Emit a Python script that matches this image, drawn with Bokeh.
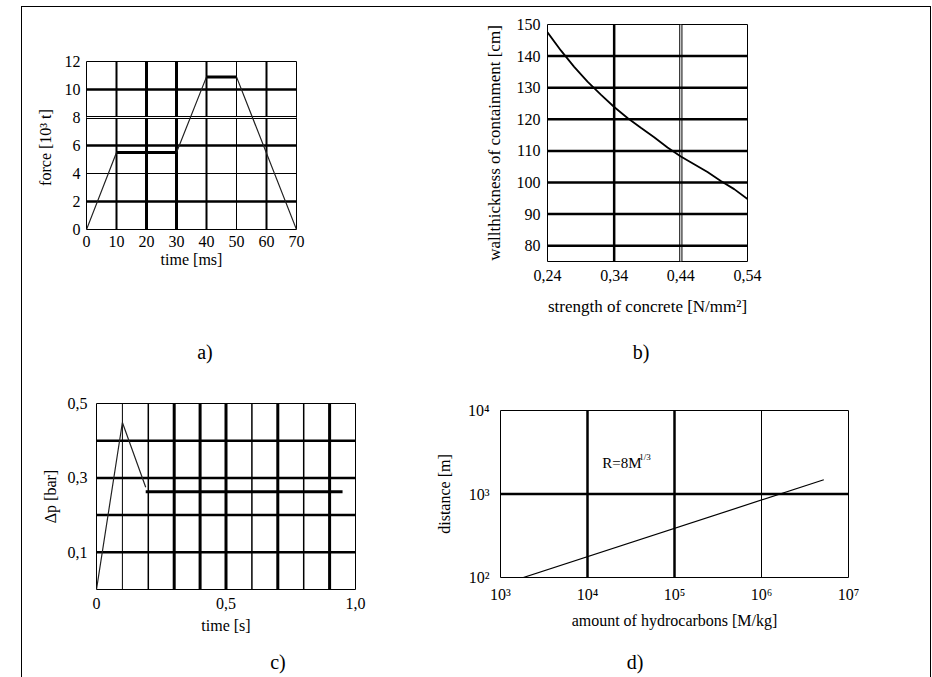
from bokeh.plotting import figure
from bokeh.models import Range1d, FixedTicker, Span, Label, Div, Spacer
from bokeh.layouts import row, column
from bokeh.embed import file_html
from bokeh.resources import INLINE

SERIF = "Liberation Serif"

# ---------------- data ----------------
# a) force vs time
a_time = [0, 10, 30, 40, 50, 70]
a_force = [0, 5.5, 5.5, 10.9, 10.9, 0]
a_flat_start = [10, 40]
a_flat_end = [30, 50]
a_flat_force = [5.5, 10.9]
a_xticks = [0, 10, 20, 30, 40, 50, 60, 70]
a_yticks = [0, 2, 4, 6, 8, 10, 12]
a_vgrid = [10, 20, 30, 40, 50, 60]
a_hgrid = [2, 4, 6, 8, 10]

# b) wall thickness vs strength of concrete
b_strength = [0.24, 0.26, 0.28, 0.30, 0.32, 0.34, 0.36, 0.38, 0.40, 0.42, 0.44, 0.46, 0.48, 0.50, 0.52, 0.54]
b_thickness = [147.5, 141.8, 136.6, 131.9, 127.8, 123.9, 120.4, 117.3, 114.3, 111.1, 108.2, 105.8, 103.3, 100.5, 97.9, 94.8]
b_xticks = [0.24, 0.34, 0.44, 0.54]
b_xlabels = ["0,24", "0,34", "0,44", "0,54"]
b_yticks = [80, 90, 100, 110, 120, 130, 140, 150]
b_vgrid = [0.34, 0.44]
b_hgrid = [80, 90, 100, 110, 120, 130, 140]

# c) pressure vs time
c_time = [0, 0.1, 0.19]
c_dp = [0, 0.449, 0.275]
c_plateau_time = [0.19, 0.95]
c_plateau_dp = [0.263, 0.263]
c_xticks = [0, 0.5, 1.0]
c_xlabels = ["0", "0,5", "1,0"]
c_yticks = [0.1, 0.3, 0.5]
c_ylabels = ["0,1", "0,3", "0,5"]
c_vgrid = [0.1, 0.2, 0.3, 0.4, 0.5, 0.6, 0.7, 0.8, 0.9]
c_hgrid = [0.1, 0.2, 0.3, 0.4]

# d) distance vs amount of hydrocarbons (log-log)
d_mass = [1.83e3, 5.2e6]
d_dist = [100, 1480]
d_xticks = [1e3, 1e4, 1e5, 1e6, 1e7]
d_xlabels = ["10³", "10⁴", "10⁵", "10⁶", "10⁷"]
d_yticks = [1e2, 1e3, 1e4]
d_ylabels = ["10²", "10³", "10⁴"]
d_vgrid = [1e4, 1e5, 1e6]
d_hgrid = [1e3]

panel_names = ["a)", "b)", "c)", "d)"]

# ---------------- styles ----------------
a_vgrid_w = [2, 3, 3, 2, 1, 2]
a_hgrid_w = [2.5, 1, 2.5, "double", 2.5]
b_vgrid_w = [2.5, "double"]
b_hgrid_w = [2.5] * 7
c_vgrid_w = [1, 1.5, 3, 3, 3, 1.5, 3, 1.5, 3]
c_hgrid_w = [2.5, 2.5, 2.5, 2.5]
d_vgrid_w = [2.5, 2.5, 1]
d_hgrid_w = [2.5]


def make_fig(w, h, left, right, top, bottom, xr, yr, xtype="linear", ytype="linear",
             tick_size="16px", label_size="16px"):
    p = figure(width=w, height=h, x_range=xr, y_range=yr,
               x_axis_type=xtype, y_axis_type=ytype,
               min_border_left=left, min_border_right=right,
               min_border_top=top, min_border_bottom=bottom,
               output_backend="svg", toolbar_location=None, title=None)
    p.frame_align = False
    p.outline_line_color = "black"
    p.outline_line_width = 1
    p.outline_line_alpha = 1
    p.xgrid.visible = False
    p.ygrid.visible = False
    p.background_fill_color = "white"
    p.border_fill_color = "white"
    for ax in p.axis:
        ax.axis_line_color = None
        ax.major_tick_line_color = None
        ax.minor_tick_line_color = None
        ax.major_tick_out = 0
        ax.major_tick_in = 0
        ax.minor_tick_out = 0
        ax.major_label_text_font = SERIF
        ax.major_label_text_font_size = tick_size
        ax.major_label_text_color = "black"
        ax.axis_label_text_font = SERIF
        ax.axis_label_text_font_size = label_size
        ax.axis_label_text_font_style = "normal"
        ax.axis_label_text_color = "black"
    return p


def add_grid(p, locs, widths, dim):
    for loc, wdt in zip(locs, widths):
        if wdt == "double":
            p.add_layout(Span(location=loc, dimension=dim, line_color="black",
                              line_width=3.2, level="underlay"))
            p.add_layout(Span(location=loc, dimension=dim, line_color="white",
                              line_width=1.2, level="underlay"))
        else:
            p.add_layout(Span(location=loc, dimension=dim, line_color="black",
                              line_width=wdt, level="underlay"))


# page geometry (pixels)
X0, Y0 = 22, 7
W1, W2 = 410, 498
HA, LA, HC, LC = 331, 28, 282, 29
YC = Y0 + HA + LA

# ---------------- a) ----------------
a_fl, a_fr, a_ft, a_fb = 86, 296, 61, 229
pa = make_fig(W1, HA, a_fl - X0, W1 - (a_fr - X0), a_ft - Y0, HA - (a_fb - Y0),
              Range1d(0, 70), Range1d(0, 12))
add_grid(pa, a_vgrid, a_vgrid_w, "height")
add_grid(pa, a_hgrid, a_hgrid_w, "width")
pa.line(a_time, a_force, line_color="#222222", line_width=1.2)
pa.segment(x0=a_flat_start, y0=a_flat_force, x1=a_flat_end, y1=a_flat_force,
           line_color="black", line_width=3)
pa.xaxis.ticker = FixedTicker(ticks=a_xticks)
pa.yaxis.ticker = FixedTicker(ticks=a_yticks)
pa.xaxis.axis_label = "time [ms]"
pa.yaxis.axis_label = "force  [10³ t]"
pa.xaxis.major_label_standoff = 6
pa.yaxis.major_label_standoff = 6
pa.xaxis.axis_label_standoff = 1
pa.yaxis.axis_label_standoff = 8

# ---------------- b) ----------------
b_fl, b_fr, b_ft, b_fb = 547, 747, 24, 261
pb = make_fig(W2, HA, b_fl - (X0 + W1), W2 - (b_fr - (X0 + W1)), b_ft - Y0, HA - (b_fb - Y0),
              Range1d(0.24, 0.54), Range1d(75, 150), tick_size="16px", label_size="17px")
add_grid(pb, b_vgrid, b_vgrid_w, "height")
add_grid(pb, b_hgrid, b_hgrid_w, "width")
pb.line(b_strength, b_thickness, line_color="black", line_width=1.8)
pb.xaxis.ticker = FixedTicker(ticks=b_xticks)
pb.xaxis.major_label_overrides = {t: l for t, l in zip(b_xticks, b_xlabels)}
pb.yaxis.ticker = FixedTicker(ticks=b_yticks)
pb.xaxis.axis_label = "strength of concrete [N/mm²]"
pb.yaxis.axis_label = "wallthickness of containment [cm]"
pb.xaxis.major_label_standoff = 8
pb.yaxis.major_label_standoff = 7
pb.xaxis.axis_label_standoff = 13
pb.yaxis.axis_label_standoff = 10

# ---------------- c) ----------------
c_fl, c_fr, c_ft, c_fb = 96, 355, 403, 589
pc = make_fig(W1, HC, c_fl - X0, W1 - (c_fr - X0), c_ft - YC, HC - (c_fb - YC),
              Range1d(0, 1.0), Range1d(0, 0.5))
add_grid(pc, c_vgrid, c_vgrid_w, "height")
add_grid(pc, c_hgrid, c_hgrid_w, "width")
pc.line(c_time, c_dp, line_color="#222222", line_width=1.2)
pc.line(c_plateau_time, c_plateau_dp, line_color="black", line_width=3)
pc.xaxis.ticker = FixedTicker(ticks=c_xticks)
pc.xaxis.major_label_overrides = {t: l for t, l in zip(c_xticks, c_xlabels)}
pc.yaxis.ticker = FixedTicker(ticks=c_yticks)
pc.yaxis.major_label_overrides = {t: l for t, l in zip(c_yticks, c_ylabels)}
pc.xaxis.axis_label = "time [s]"
pc.yaxis.axis_label = "Δp [bar]"
pc.xaxis.major_label_standoff = 8
pc.yaxis.major_label_standoff = 9
pc.xaxis.axis_label_standoff = 5
pc.yaxis.axis_label_standoff = 6

# ---------------- d) ----------------
d_fl, d_fr, d_ft, d_fb = 492, 848, 410, 577
pd_ = make_fig(W2, HC, d_fl - (X0 + W1), W2 - (d_fr - (X0 + W1)), d_ft - YC, HC - (d_fb - YC),
               Range1d(1e3, 1e7), Range1d(1e2, 1e4), xtype="log", ytype="log")
add_grid(pd_, d_vgrid, d_vgrid_w, "height")
add_grid(pd_, d_hgrid, d_hgrid_w, "width")
pd_.line(d_mass, d_dist, line_color="black", line_width=1.2)
pd_.xaxis.ticker = FixedTicker(ticks=d_xticks)
pd_.xaxis.major_label_overrides = {t: l for t, l in zip(d_xticks, d_xlabels)}
pd_.yaxis.ticker = FixedTicker(ticks=d_yticks)
pd_.yaxis.major_label_overrides = {t: l for t, l in zip(d_yticks, d_ylabels)}
pd_.xaxis.axis_label = "amount of hydrocarbons [M/kg]"
pd_.yaxis.axis_label = "distance [m]"
pd_.xaxis.major_label_standoff = 8
pd_.yaxis.major_label_standoff = 11
pd_.xaxis.axis_label_standoff = 6
pd_.yaxis.axis_label_standoff = 12


def dx(px):
    return 10 ** (3 + (px - d_fl) * 4 / (d_fr - d_fl))


def dy(py):
    return 10 ** (4 - (py - d_ft) * 2 / (d_fb - d_ft))


pd_.add_layout(Label(x=dx(596), y=dy(462), text="R=8M", text_font=SERIF, text_font_size="15px",
                     text_align="left", text_baseline="middle", text_color="black"))
pd_.add_layout(Label(x=dx(634), y=dy(456), text="1/3", text_font=SERIF, text_font_size="9px",
                     text_align="left", text_baseline="middle", text_color="black"))


# ---------------- panel captions (a) b) c) d)) ----------------
def caption(text, h):
    html = ('<div style="width:40px;text-align:center;font-family:\'Liberation Serif\',serif;'
            f'font-size:20px;line-height:{h}px;color:black;">{text}</div>')
    return Div(text=html, width=40, height=h, margin=0)


def caption_row(centers, texts, h):
    items = []
    cur = 0
    for cx, t in zip(centers, texts):
        left = cx - X0 - 20
        items.append(Spacer(width=left - cur, height=h))
        items.append(caption(t, h))
        cur = left + 40
    items.append(Spacer(width=W1 + W2 - cur, height=h))
    return row(*items)


cap_top = caption_row([205, 641], panel_names[:2], LA)
cap_bot = caption_row([278, 635], panel_names[2:], LC)

# ---------------- page layout ----------------
BLACK = {"background-color": "black"}
top_line = Div(text="", width=910, height=1, margin=0, styles=BLACK)
left_line = Div(text="", width=1, height=670, margin=0, styles=BLACK)
right_line = Div(text="", width=1, height=670, margin=0, styles=BLACK)

content = column(row(pa, pb), cap_top, row(pc, pd_), cap_bot)
page = column(Spacer(width=932, height=6),
              row(Spacer(width=21, height=671),
                  column(top_line, row(left_line, content, right_line))))

open("out.html", "w").write(file_html(page, INLINE))
